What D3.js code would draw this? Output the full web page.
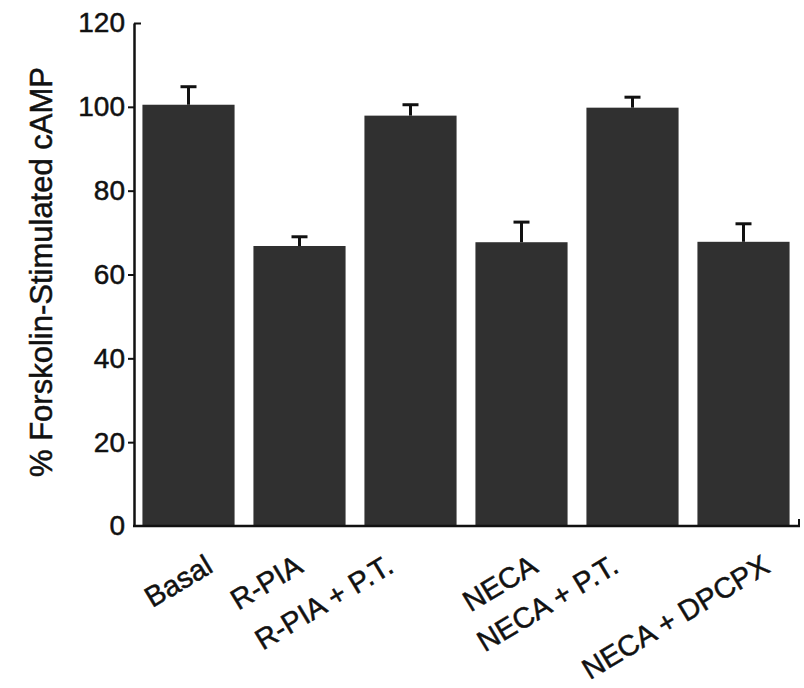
<!DOCTYPE html>
<html>
<head>
<meta charset="utf-8">
<script src="https://cdn.jsdelivr.net/npm/d3@7"></script>
<style>
  html, body { margin: 0; padding: 0; background: #fff; }
  svg { display: block; }
  text { font-family: "Liberation Sans", Arial, Helvetica, sans-serif; fill: #111; stroke: #111; stroke-width: 0.5px; }
</style>
</head>
<body>
<svg id="chart" width="804" height="688"></svg>
<script>
// Treatment groups and % forskolin-stimulated cAMP (mean, upper SEM)
const categories = ["Basal", "R-PIA", "R-PIA + P.T.", "NECA", "NECA + P.T.", "NECA + DPCPX"];
const means = [100.5, 66.8, 97.9, 67.7, 99.8, 67.8];
const sems = [4.3, 2.2, 2.6, 4.8, 2.5, 4.3];
const yTicks = [0, 20, 40, 60, 80, 100, 120];
const yLabel = "% Forskolin-Stimulated cAMP";

const svg = d3.select("#chart");

const x = d3.scaleBand()
  .domain(categories)
  .range([133, 799])
  .paddingInner(0.17)
  .paddingOuter(0.085);

const y = d3.scaleLinear()
  .domain([0, 120])
  .range([526, 23]);

const rows = categories.map((c, i) => ({ cat: c, mean: means[i], sem: sems[i] }));

// Bars
svg.append("g")
  .selectAll("rect")
  .data(rows)
  .join("rect")
  .attr("x", d => x(d.cat))
  .attr("y", d => y(d.mean))
  .attr("width", x.bandwidth())
  .attr("height", d => y(0) - y(d.mean))
  .attr("fill", "#303030");

// Upper error bars
const err = svg.append("g")
  .attr("stroke", "#111")
  .attr("stroke-width", 3);
err.selectAll("line.stem")
  .data(rows)
  .join("line")
  .attr("class", "stem")
  .attr("x1", d => x(d.cat) + x.bandwidth() / 2)
  .attr("x2", d => x(d.cat) + x.bandwidth() / 2)
  .attr("y1", d => y(d.mean))
  .attr("y2", d => y(d.mean + d.sem));
err.selectAll("line.cap")
  .data(rows)
  .join("line")
  .attr("class", "cap")
  .attr("x1", d => x(d.cat) + x.bandwidth() / 2 - 8)
  .attr("x2", d => x(d.cat) + x.bandwidth() / 2 + 8)
  .attr("y1", d => y(d.mean + d.sem))
  .attr("y2", d => y(d.mean + d.sem));

// Y axis
const yAxis = svg.append("g")
  .attr("transform", "translate(134,0)")
  .call(d3.axisLeft(y).tickValues(yTicks).tickSize(6).tickSizeOuter(0).tickPadding(3));
yAxis.select(".domain").attr("stroke", "#111").attr("stroke-width", 2.5);
yAxis.selectAll(".tick line").attr("stroke", "#111").attr("stroke-width", 2);
yAxis.selectAll(".tick")
  .filter(d => d === 120)
  .select("line")
  .attr("x2", 7);
yAxis.selectAll(".tick")
  .filter(d => d === 0)
  .select("line")
  .attr("x2", 0);
yAxis.selectAll(".tick text")
  .style("font-size", "28px")
  .style("font-family", "'Liberation Sans', Arial, sans-serif")
  .attr("fill", "#111")
  .attr("stroke", "#111")
  .attr("stroke-width", 0.5);

// X axis baseline with a short end tick
const xAxis = svg.append("g");
xAxis.append("line")
  .attr("x1", 133).attr("x2", 800)
  .attr("y1", y(0)).attr("y2", y(0))
  .attr("stroke", "#111").attr("stroke-width", 2.5);
xAxis.append("line")
  .attr("x1", 799).attr("x2", 799)
  .attr("y1", y(0)).attr("y2", y(0) - 7)
  .attr("stroke", "#111").attr("stroke-width", 2);

// Category labels, slanted; each label's end sits a little off its bar centre
const labelShift = [26, 5, -15, 18, -12, 28];
svg.append("g")
  .selectAll("text")
  .data(categories)
  .join("text")
  .attr("transform", (d, i) => `translate(${x(d) + x.bandwidth() / 2 + labelShift[i]},571) rotate(-31)`)
  .attr("text-anchor", "end")
  .style("font-size", "29px")
  .text(d => d);

// Y axis title
svg.append("text")
  .attr("transform", "translate(52,272) rotate(-90)")
  .attr("text-anchor", "middle")
  .style("font-size", "31px")
  .text(yLabel);
</script>
</body>
</html>
